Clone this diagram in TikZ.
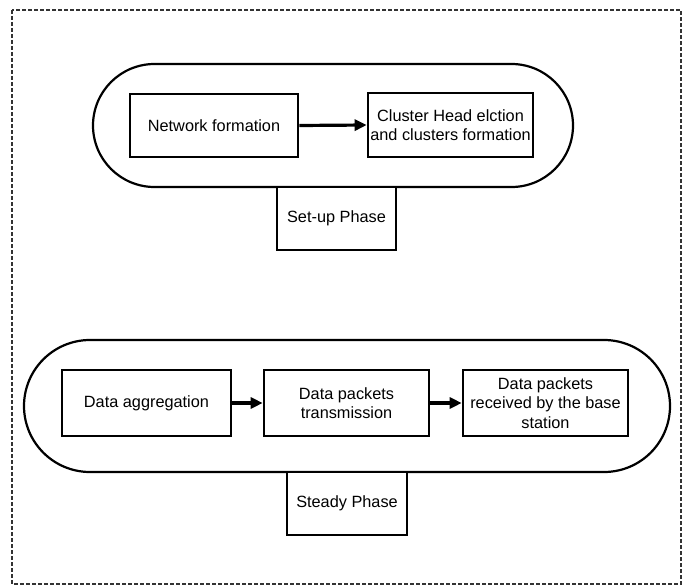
\documentclass[tikz,border=0pt]{standalone}
\usepackage{fontspec}
\setmainfont{Liberation Sans}
\usetikzlibrary{arrows.meta}
\begin{document}
\begin{tikzpicture}[x=1pt,y=1pt,
  box/.style={draw, line width=2.6pt, inner sep=0pt, align=center, font=\fontsize{16.3}{19.5}\selectfont},
  phasebox/.style={draw, line width=1.6pt, inner sep=0pt, align=center, font=\fontsize{16.3}{19.5}\selectfont, fill=white},
  stadium/.style={draw, line width=2.2pt},
  flow/.style={line width=3.2pt, -{Triangle[length=12pt,width=11pt]}},
  frame/.style={draw=black!80, line width=1.5pt, dash pattern=on 4pt off 2pt}]
\useasboundingbox (0,0) rectangle (693,-586);
\draw[frame] (12,-10) rectangle (681,-584);
% set-up phase
\draw[stadium, rounded corners=61.5pt] (93,-64) rectangle (573,-187);
\node[phasebox, minimum width=119pt, minimum height=63pt] (setup) at (336.5,-218.5) {Set-up Phase};
\node[box, minimum width=168pt, minimum height=63pt] (nf) at (214,-125.5) {Network formation};
\node[box, minimum width=165pt, minimum height=64pt] (ch) at (450.5,-125) {Cluster Head elction\\and clusters formation};
\draw[flow] (nf.east) -- (ch.west);
% steady phase
\draw[stadium, rounded corners=66pt] (24,-340) rectangle (670,-472);
\node[phasebox, minimum width=120pt, minimum height=63pt] (steady) at (347,-503.5) {Steady Phase};
\node[box, minimum width=169pt, minimum height=66pt] (da) at (146.5,-403) {Data aggregation};
\node[box, minimum width=165pt, minimum height=66pt] (dt) at (346.5,-403) {Data packets\\transmission};
\node[box, minimum width=165pt, minimum height=66pt] (dr) at (545.5,-403) {Data packets\\received by the base\\station};
\draw[flow] (da.east) -- (dt.west);
\draw[flow] (dt.east) -- (dr.west);
\end{tikzpicture}
\end{document}
